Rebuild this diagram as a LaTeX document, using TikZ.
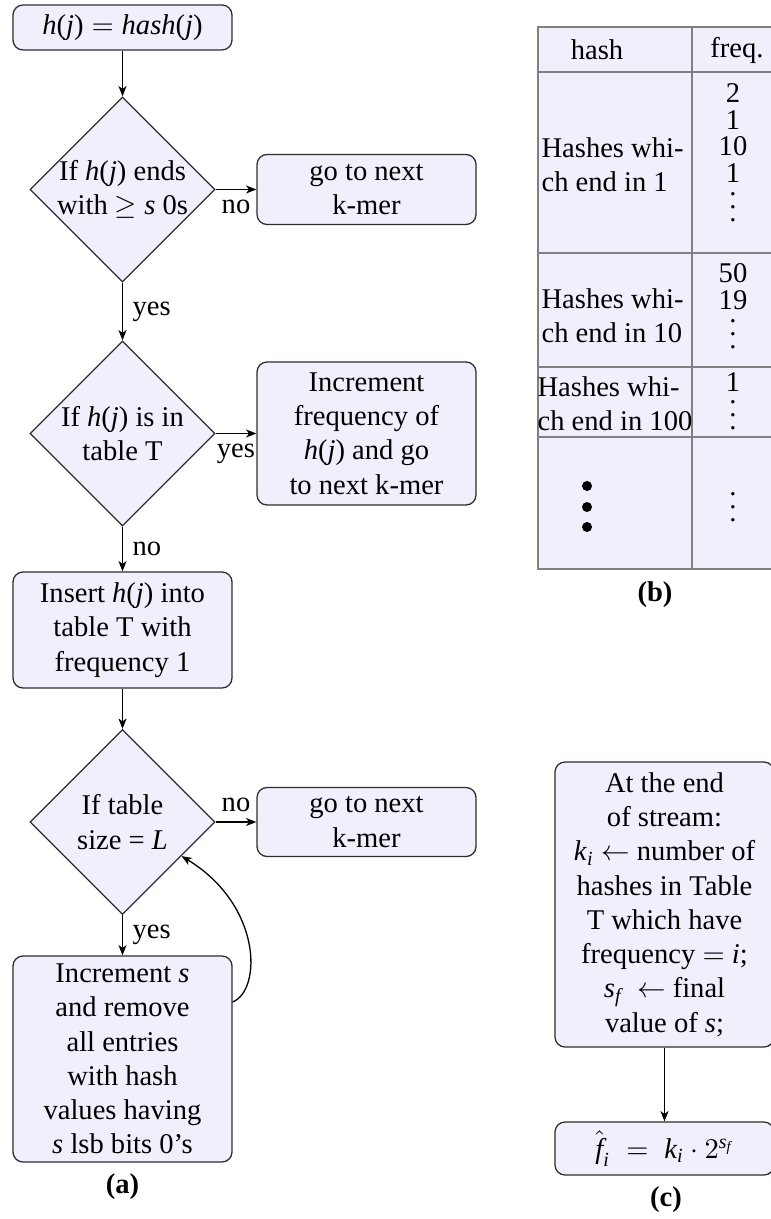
\documentclass[tikz,border=0pt]{standalone}
\usepackage{amsmath}
\usepackage{fontspec}
\setmainfont{Liberation Serif}
\usetikzlibrary{shapes.geometric,arrows.meta}

\definecolor{cellfill}{RGB}{240,240,252}
\definecolor{rulegray}{RGB}{128,128,128}
\definecolor{edgeink}{RGB}{45,45,45}

% italic letters set in the text face
\newcommand\mi[1]{\textit{#1}}
% three stacked dots, centred on the middle one
\newcommand\dotstack{\vbox{\baselineskip4.5pt\lineskiplimit0pt\hbox{.}\hbox{.}\hbox{.}}}

\begin{document}
\begin{tikzpicture}[x=0.35pt,y=0.35pt,
  font=\fontsize{10pt}{12pt}\selectfont,
  proc/.style={draw=edgeink, line width=0.45pt, fill=cellfill, rounded corners=3.5pt,
    align=center, minimum width=219*0.35pt, inner sep=0pt},
  test/.style={draw=edgeink, line width=0.45pt, fill=cellfill, diamond, aspect=1,
    align=center, minimum width=185*0.35pt, minimum height=185*0.35pt, inner sep=-2pt},
  flow/.style={-{Stealth[length=3.6pt,width=2.8pt,inset=1pt]}, line width=0.45pt},
  figcap/.style={font=\fontsize{10pt}{12pt}\selectfont\bfseries},
  cellrule/.style={draw=rulegray, line width=0.4pt},
  celltext/.style={anchor=west, align=left, inner sep=0pt},
  counts/.style={align=center, inner sep=0pt, font=\fontsize{10pt}{9.3pt}\selectfont},
  dotcol/.style={inner sep=0pt}]
\useasboundingbox (0,0) rectangle (770,-1219);

% ---------- (a) flowchart ----------
\node[proc, minimum height=45*0.35pt] (hashbox) at (122.5,-27.5)
  {\mi{h}(\mi{j})$\;=\;$\mi{hash}(\mi{j})};
\node[test] (ends) at (122.5,-189.5) {If \mi{h}(\mi{j}) ends\\with $\geq$ \mi{s} 0s};
\node[proc, minimum height=70*0.35pt] (skipA) at (366.5,-189.5) {go to next\\k-mer};
\node[test] (intable) at (122.5,-433.5) {If \mi{h}(\mi{j}) is in\\table T};
\node[proc, minimum height=143*0.35pt] (bump) at (366.5,-433.5)
  {Increment\\frequency of\\\mi{h}(\mi{j}) and go\\to next k-mer};
\node[proc, minimum height=116*0.35pt] (insert) at (122.5,-630)
  {Insert \mi{h}(\mi{j}) into\\table T with\\frequency 1};
\node[test] (full) at (122.5,-822) {If table\\size = \mi{L}};
\node[proc, minimum height=69*0.35pt] (skipB) at (366.5,-822) {go to next\\k-mer};
\node[proc, minimum height=206*0.35pt] (shrink) at (122.5,-1059)
  {Increment \mi{s}\\and remove\\all entries\\with hash\\values having\\\mi{s} lsb bits 0’s};
\node[figcap] (capA) at (122.5,-1187) {(a)};

\draw[flow] (hashbox) -- (ends);
\draw[flow] (ends.east) -- node[below] {no} (skipA.west);
\draw[flow] (ends) -- node[right] {yes} (intable);
\draw[flow] (intable.east) -- node[below] {yes} (bump.west);
\draw[flow] (intable) -- node[right] {no} (insert);
\draw[flow] (insert) -- (full);
\draw[flow] (full.east) -- node[above] {no} (skipB.west);
\draw[flow] (full) -- node[right] {yes} (shrink);
\draw[flow] ([yshift=57*0.35pt]shrink.east) .. controls (262,-990) and (262,-905) .. (full.-30);

% ---------- (b) table ----------
\fill[cellfill] (538,-27) rectangle (774,-569);
\draw[cellrule] (538,-27) rectangle (774,-569);
\foreach \yy in {72,253,367,437} \draw[cellrule] (538,-\yy) -- (774,-\yy);
\draw[cellrule] (692,-27) -- (692,-569);

\node (hdhash) at (597,-50) {hash};
\node (hdfreq) at (737,-50) {freq.};
\node[celltext] (grp1) at (541,-164.5) {Hashes whi-\\ch end in 1};
\node[celltext] (grp2) at (541,-315.5) {Hashes whi-\\ch end in 10};
\node[celltext] (grp3) at (537,-403.5) {Hashes whi-\\ch end in 100};
\foreach \yy in {486,507,527} \fill (587,-\yy) circle[radius=1.75pt];

\node[counts] (cnt1) at (733,-133) {2\\1\\10\\1};
\node[dotcol] (dots1) at (733,-207) {\dotstack};
\node[counts] (cnt2) at (733,-286.5) {50\\19};
\node[dotcol] (dots2) at (733,-334) {\dotstack};
\node[counts] (cnt3) at (733,-382) {1};
\node[dotcol] (dots3) at (733,-415) {\dotstack};
\node[dotcol] (dots4) at (733,-507) {\dotstack};
\node[figcap] (capB) at (655,-595) {(b)};

% ---------- (c) estimate ----------
\node[proc, minimum height=285*0.35pt] (final) at (664.5,-904.5)
  {At the end\\of stream:\\\mi{k}$_{\mi{i}}$ $\leftarrow$ number of\\hashes in Table\\T which have\\frequency $=$ \mi{i};\\\mi{s}$_{\mi{f}}$\; $\leftarrow$ final\\value of \mi{s};};
\node[proc, minimum height=53*0.35pt] (est) at (664.5,-1148.5)
  {$\hat{\mi{f}}_{\mi{i}}\;=\;\mi{k}_{\mi{i}}\cdot 2^{\mi{s}_{\mi{f}}}$};
\draw[flow] (final) -- (est);
\node[figcap] (capC) at (666,-1200) {(c)};
\end{tikzpicture}
\end{document}
